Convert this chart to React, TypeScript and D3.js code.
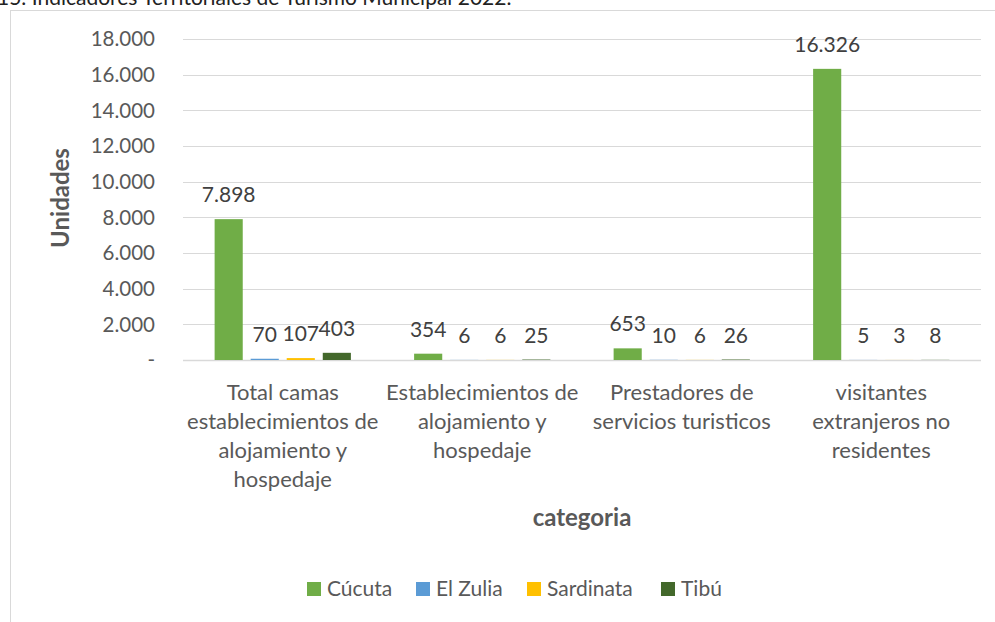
import React, { useEffect, useRef } from "react";
import * as d3 from "d3";

// data
const categories = [
    ["Total camas", "establecimientos de", "alojamiento y", "hospedaje"],
    ["Establecimientos de", "alojamiento y", "hospedaje"],
    ["Prestadores de", "servicios turisticos"],
    ["visitantes", "extranjeros no", "residentes"],
];
const seriesNames = ["Cúcuta", "El Zulia", "Sardinata", "Tibú"];
const cucuta = [7898, 354, 653, 16326];
const elZulia = [70, 6, 10, 5];
const sardinata = [107, 6, 6, 3];
const tibu = [403, 25, 26, 8];
const yTicks = [0, 2000, 4000, 6000, 8000, 10000, 12000, 14000, 16000, 18000];
const colors = ["#70AD47", "#5B9BD5", "#FFC000", "#43682B"];

const App = () => {
    const ref = useRef<SVGSVGElement>(null);

    useEffect(() => {
        const width = 995;
        const height = 622;
        const svg = d3.select(ref.current);
        svg.selectAll("*").remove();

        const font = "Lato, 'Open Sans', sans-serif";
        const values = [cucuta, elZulia, sardinata, tibu];
        const locale = d3.formatLocale({ decimal: ",", thousands: ".", grouping: [3], currency: ["$", ""] });
        const fmt = locale.format(",d");

        // title, cut off at the top edge like in the source image
        svg.append("text")
            .attr("x", -3)
            .attr("y", 5)
            .attr("font-family", font)
            .attr("font-size", 21)
            .attr("fill", "#222")
            .text("15. Indicadores Territoriales de Turismo Municipal 2022.");

        // chart frame
        svg.append("rect")
            .attr("x", 10.5)
            .attr("y", 10.5)
            .attr("width", 1000)
            .attr("height", 700)
            .attr("fill", "#fff")
            .attr("stroke", "#D9D9D9");

        // Scaling
        const x = d3
            .scaleBand<number>()
            .domain(d3.range(categories.length))
            .range([183, 981])
            .paddingInner(0.317)
            .paddingOuter(0.1585);

        const xs = d3
            .scaleBand<number>()
            .domain(d3.range(seriesNames.length))
            .range([0, x.bandwidth()])
            .paddingInner(0.22);

        const y = d3.scaleLinear().domain([0, 18000]).range([360, 39]);

        // gridlines
        svg.append("g")
            .selectAll("line")
            .data(yTicks)
            .join("line")
            .attr("x1", 183)
            .attr("x2", 981)
            .attr("y1", (d) => Math.round(y(d)) + 0.5)
            .attr("y2", (d) => Math.round(y(d)) + 0.5)
            .attr("stroke", "#D9D9D9")
            .attr("stroke-width", (d) => (d === 0 ? 1.5 : 1));

        // y tick labels
        svg.append("g")
            .selectAll("text")
            .data(yTicks)
            .join("text")
            .attr("x", 155)
            .attr("y", (d) => y(d))
            .attr("dy", "0.35em")
            .attr("text-anchor", "end")
            .attr("font-family", font)
            .attr("font-size", 20.5)
            .attr("fill", "#595959")
            .text((d) => (d === 0 ? "-" : fmt(d)));

        // bars + data labels
        values.forEach((vals, s) => {
            const g = svg.append("g");
            g.selectAll("rect")
                .data(vals)
                .join("rect")
                .attr("x", (d, i) => x(i)! + xs(s)!)
                .attr("y", (d) => y(d))
                .attr("width", xs.bandwidth())
                .attr("height", (d) => y(0) - y(d))
                .attr("fill", colors[s]);
            g.selectAll("text")
                .data(vals)
                .join("text")
                .attr("x", (d, i) => x(i)! + xs(s)! + xs.bandwidth() / 2)
                .attr("y", (d) => y(d) - 17)
                .attr("text-anchor", "middle")
                .attr("font-family", font)
                .attr("font-size", 21)
                .attr("fill", "#404040")
                .text((d) => fmt(d));
        });

        // category labels
        const cat = svg.append("g")
            .selectAll("text")
            .data(categories)
            .join("text")
            .attr("y", 400)
            .attr("text-anchor", "middle")
            .attr("font-family", font)
            .attr("font-size", 22)
            .attr("fill", "#595959");
        cat.each(function (lines, i) {
            d3.select(this)
                .selectAll("tspan")
                .data(lines)
                .join("tspan")
                .attr("x", x(i)! + x.bandwidth() / 2)
                .attr("dy", (d, j) => (j === 0 ? 0 : 29))
                .text((d) => d);
        });

        // axis titles
        svg.append("text")
            .attr("x", 582)
            .attr("y", 526)
            .attr("text-anchor", "middle")
            .attr("font-family", font)
            .attr("font-size", 24)
            .attr("font-weight", "bold")
            .attr("fill", "#595959")
            .text("categoria");

        svg.append("text")
            .attr("transform", "translate(69,198) rotate(-90)")
            .attr("text-anchor", "middle")
            .attr("font-family", font)
            .attr("font-size", 24)
            .attr("font-weight", "bold")
            .attr("fill", "#595959")
            .text("Unidades");

        // legend
        const legendX = [307, 416, 527, 661];
        const legend = svg.append("g")
            .selectAll("g")
            .data(seriesNames)
            .join("g")
            .attr("transform", (d, i) => `translate(${legendX[i]},582)`);
        legend.append("rect")
            .attr("width", 14)
            .attr("height", 14)
            .attr("fill", (d, i) => colors[i]);
        legend.append("text")
            .attr("x", 20)
            .attr("y", 7)
            .attr("dy", "0.35em")
            .attr("font-family", font)
            .attr("font-size", 21)
            .attr("fill", "#595959")
            .text((d) => d);

        svg.attr("width", width).attr("height", height);
    }, []);

    return (
        <svg
            ref={ref}
            width={995}
            height={622}
            style={{ position: "absolute", left: 0, top: 0, background: "#fff" }}
        />
    );
};

export default App;
